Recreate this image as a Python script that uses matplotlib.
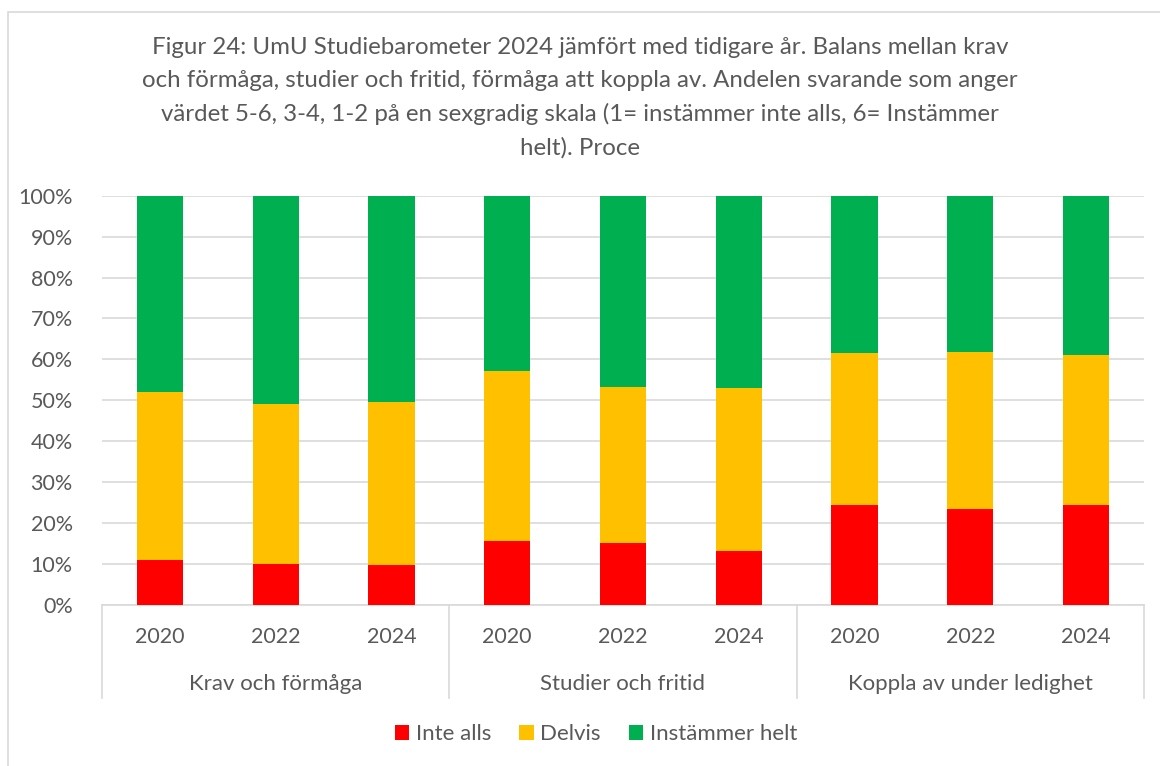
import matplotlib.pyplot as plt
from matplotlib.patches import Patch, Rectangle
from matplotlib.lines import Line2D
import numpy as np

plt.rcParams['font.family'] = ['Lato', 'DejaVu Sans']

# data (andel i procent)
grupper = ['Krav och förmåga', 'Studier och fritid', 'Koppla av under ledighet']
ar = ['2020', '2022', '2024']
inte_alls = [10.9, 10.0, 9.7, 15.7, 15.2, 13.1, 24.5, 23.5, 24.4]
delvis_topp = [52.1, 49.2, 49.6, 57.1, 53.2, 52.9, 61.5, 61.7, 61.0]
delvis = [t - r for t, r in zip(delvis_topp, inte_alls)]
instammer = [100 - t for t in delvis_topp]

serier = ['Inte alls', 'Delvis', 'Instämmer helt']
farger = ['#FF0000', '#FFC000', '#00B050']

textfarg = '#595959'
gridfarg = '#D9D9D9'

W, H = 1160, 766
fig = plt.figure(figsize=(W / 100, H / 100), dpi=100)

# ram runt diagrammet
fig.add_artist(Rectangle((8 / W, -0.05), 1.2, 1 - 12 / H + 0.05,
                         transform=fig.transFigure, fill=False,
                         edgecolor=gridfarg, lw=1.2))

ax = fig.add_axes([102 / W, 1 - 605 / H, (1144 - 102) / W, (605 - 195.7) / H])

x = np.arange(len(inte_alls))
bredd = 0.4
ax.bar(x, inte_alls, bredd, color=farger[0], zorder=3)
ax.bar(x, delvis, bredd, bottom=inte_alls, color=farger[1], zorder=3)
ax.bar(x, instammer, bredd, bottom=delvis_topp, color=farger[2], zorder=3)

ax.set_xlim(-0.5, len(x) - 0.5)
ax.set_ylim(0, 100)
ax.set_yticks(range(0, 101, 10))
ax.set_yticklabels([f'{v}%' for v in range(0, 101, 10)])
ax.yaxis.grid(True, color=gridfarg, lw=1.2, zorder=0)
ax.tick_params(axis='y', length=0, pad=21, labelsize=15.5, labelcolor=textfarg)
ax.set_xticks([])
for s in ['top', 'right', 'left']:
    ax.spines[s].set_visible(False)
ax.spines['bottom'].set_color(gridfarg)
ax.spines['bottom'].set_linewidth(1.2)

# tvånivås x-axel
djup = (698 - 605) / (605 - 195.7)
for g in range(len(grupper) + 1):
    ax.add_line(Line2D([g / 3, g / 3], [0, -djup], transform=ax.transAxes,
                       color=gridfarg, lw=1.2, clip_on=False))
tr = ax.get_xaxis_transform()
for i, xi in enumerate(x):
    ax.text(xi, -(637 - 605) / (605 - 195.7), ar[i % 3], transform=tr,
            ha='center', va='center', fontsize=15.5, color=textfarg)
for g, namn in enumerate(grupper):
    ax.text(3 * g + 1, -(684 - 605) / (605 - 195.7), namn, transform=tr,
            ha='center', va='center', fontsize=16, color=textfarg)

titel = ('Figur 24: UmU Studiebarometer 2024 jämfört med tidigare år. Balans mellan krav\n'
         'och förmåga, studier och fritid, förmåga att koppla av. Andelen svarande som anger\n'
         'värdet 5-6, 3-4, 1-2 på en sexgradig skala (1= instämmer inte alls, 6= Instämmer\n'
         'helt). Proce')
fig.text(580 / W, 1 - 37 / H, titel, ha='center', va='top', fontsize=17.3,
         color=textfarg, linespacing=1.68)

handles = [Patch(facecolor=c, edgecolor='none') for c in farger]
fig.legend(handles, serier, loc='center', bbox_to_anchor=(596 / W, 1 - 734 / H),
           ncol=3, frameon=False, fontsize=16, labelcolor=textfarg,
           handlelength=0.65, handleheight=0.65, handletextpad=0.3, columnspacing=1.25)

fig.savefig('out.png', dpi=100)
